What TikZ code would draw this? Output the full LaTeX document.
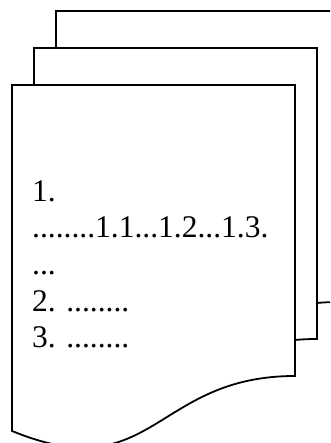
\documentclass[tikz,border=0pt]{standalone}
\usepackage{fontspec}
\setmainfont{Liberation Serif}
\begin{document}
\begin{tikzpicture}[x=1pt,y=-1pt,
  page/.style={draw=black,fill=white,line width=1.8pt,line join=miter},
  line/.style={anchor=base west,inner sep=0pt,font=\fontsize{31.5}{36}\selectfont}]
\useasboundingbox (0,0) rectangle (330,443);
\clip (0,0) rectangle (330,443);
\foreach \dx/\dy in {44/-74,22/-37,0/0}{
  \begin{scope}[shift={(\dx,\dy)}]
    \draw[page] (12,85) -- (295,85) -- (295,376)
      .. controls (153.5,376) and (153.5,489) .. (12,431) -- cycle;
  \end{scope}
}
\node[line] (l1) at (32,201) {1.};
\node[line] (l2) at (32,237.5) {........1.1...1.2...1.3.};
\node[line] (l3) at (32,274) {...};
\node[line] (l4) at (32,311) {2. ........};
\node[line] (l5) at (32,347.7) {3. ........};
\end{tikzpicture}
\end{document}
